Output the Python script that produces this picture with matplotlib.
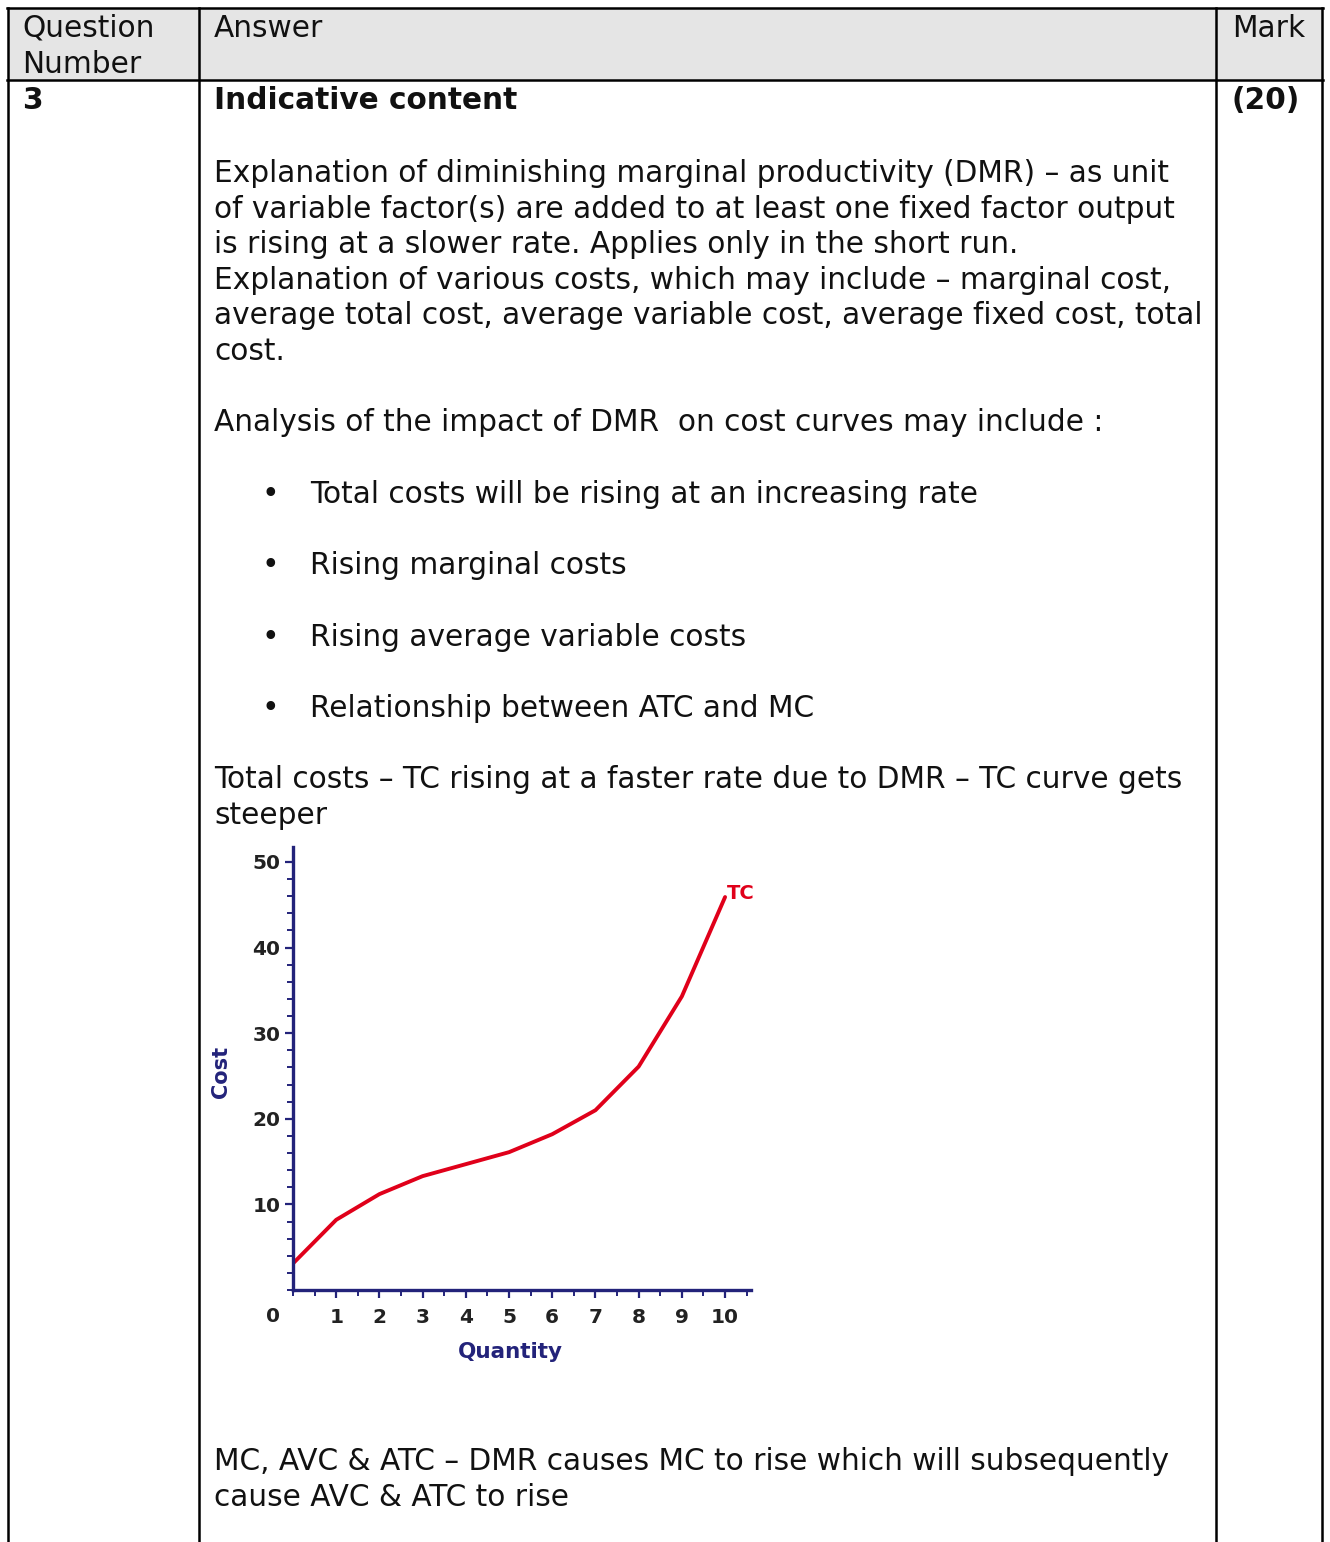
import matplotlib
matplotlib.use("Agg")
import matplotlib.pyplot as plt
from matplotlib.patches import Rectangle
from matplotlib.ticker import MultipleLocator

# --- chart data ---
quantity = [0, 1, 2, 3, 4, 5, 6, 7, 8, 9, 10]
total_cost = [3.1, 8.2, 11.2, 13.3, 14.7, 16.1, 18.2, 21.0, 26.1, 34.3, 45.9]
x_ticks = [1, 2, 3, 4, 5, 6, 7, 8, 9, 10]
y_ticks = [10, 20, 30, 40, 50]

# --- table text ---
header_q = ["Question", "Number"]
header_answer = "Answer"
header_mark = "Mark"
question_no = "3"
mark_value = "(20)"
answer_title = "Indicative content"
para1 = [
    "Explanation of diminishing marginal productivity (DMR) \u2013 as unit",
    "of variable factor(s) are added to at least one fixed factor output",
    "is rising at a slower rate. Applies only in the short run.",
    "Explanation of various costs, which may include \u2013 marginal cost,",
    "average total cost, average variable cost, average fixed cost, total",
    "cost.",
]
analysis_intro = "Analysis of the impact of DMR  on cost curves may include :"
bullets = [
    "Total costs will be rising at an increasing rate",
    "Rising marginal costs",
    "Rising average variable costs",
    "Relationship between ATC and MC",
]
tc_text = [
    "Total costs \u2013 TC rising at a faster rate due to DMR \u2013 TC curve gets",
    "steeper",
]
mc_text = [
    "MC, AVC & ATC \u2013 DMR causes MC to rise which will subsequently",
    "cause AVC & ATC to rise",
]

W, H = 1330, 1542
FS = 21.3          # body text size (pt)
LINE = 35.6        # line spacing (px)
NAVY = "#23237a"
RED = "#e0001a"
TICK_FS = 14.5

fig = plt.figure(figsize=(W / 100, H / 100), dpi=100)
fig.patch.set_facecolor("white")

# page axes in pixel coordinates
page = fig.add_axes([0, 0, 1, 1])
page.set_xlim(0, W)
page.set_ylim(H, 0)
page.axis("off")

# header background
page.add_patch(Rectangle((8, 8), 1315, 72, facecolor="#e5e5e5", edgecolor="none"))

lw = 1.8
page.plot([7, 1323], [8, 8], color="black", lw=lw)
page.plot([7, 1323], [80, 80], color="black", lw=lw)
for xv in [8, 199, 1216, 1322]:
    page.plot([xv, xv], [8, H + 5], color="black", lw=lw)

def txt(x, y, s, bold=False):
    page.text(x, y, s, fontsize=FS, va="baseline", ha="left", color="#111111",
              fontweight="bold" if bold else "normal")

txt(22, 37, header_q[0])
txt(22, 73, header_q[1])
txt(214, 37, header_answer)
txt(1232, 37, header_mark)
txt(22, 109, question_no, bold=True)
txt(214, 109, answer_title, bold=True)
txt(1232, 109, mark_value, bold=True)

for i, line in enumerate(para1):
    txt(214, 182 + i * LINE, line)

txt(214, 431, analysis_intro)
for i, b in enumerate(bullets):
    y = 503 + i * 71.3
    txt(262, y, "\u2022")
    txt(310, y, b)

for i, line in enumerate(tc_text):
    txt(214, 788 + i * LINE, line)
for i, line in enumerate(mc_text):
    txt(214, 1470 + i * LINE, line)

# --- embedded TC chart ---
ax = fig.add_axes([293 / W, 1 - 1290 / H, 458 / W, 442.6 / H])
ax.set_facecolor("none")
ax.plot(quantity, total_cost, color=RED, lw=2.8, solid_capstyle="round",
        solid_joinstyle="round")
ax.set_xlim(0, 10.6)
ax.set_ylim(0, 51.7)
for s in ["top", "right"]:
    ax.spines[s].set_visible(False)
for s in ["left", "bottom"]:
    ax.spines[s].set_color(NAVY)
    ax.spines[s].set_linewidth(2.4)

ax.set_xticks(x_ticks)
ax.set_yticks(y_ticks)
ax.xaxis.set_minor_locator(MultipleLocator(0.5))
ax.yaxis.set_minor_locator(MultipleLocator(2))
ax.tick_params(axis="both", which="major", direction="out", length=6, width=1.6,
               color=NAVY, labelsize=TICK_FS, labelcolor="#222222")
ax.tick_params(axis="both", which="minor", direction="out", length=4, width=1.4,
               color=NAVY)
ax.tick_params(axis="x", which="major", pad=7)
ax.tick_params(axis="y", which="major", pad=3)
for lab in ax.get_xticklabels() + ax.get_yticklabels():
    lab.set_fontweight("bold")

ax.text(-0.47, -3.05, "0", fontsize=TICK_FS, fontweight="bold", color="#222222",
        ha="center", va="center", clip_on=False)
ax.text(quantity[-1] + 0.05, total_cost[-1] + 0.4, "TC", color=RED, fontsize=14,
        fontweight="bold", ha="left", va="center")

ax.set_xlabel("Quantity", color=NAVY, fontsize=15.5, fontweight="bold")
ax.set_ylabel("Cost", color=NAVY, fontsize=15, fontweight="bold")
ax.xaxis.set_label_coords(217 / 458, -52 / 442.6)
ax.yaxis.set_label_coords(-62 / 458, (1290 - 1072) / 442.6)

fig.savefig("out.png", dpi=100)
